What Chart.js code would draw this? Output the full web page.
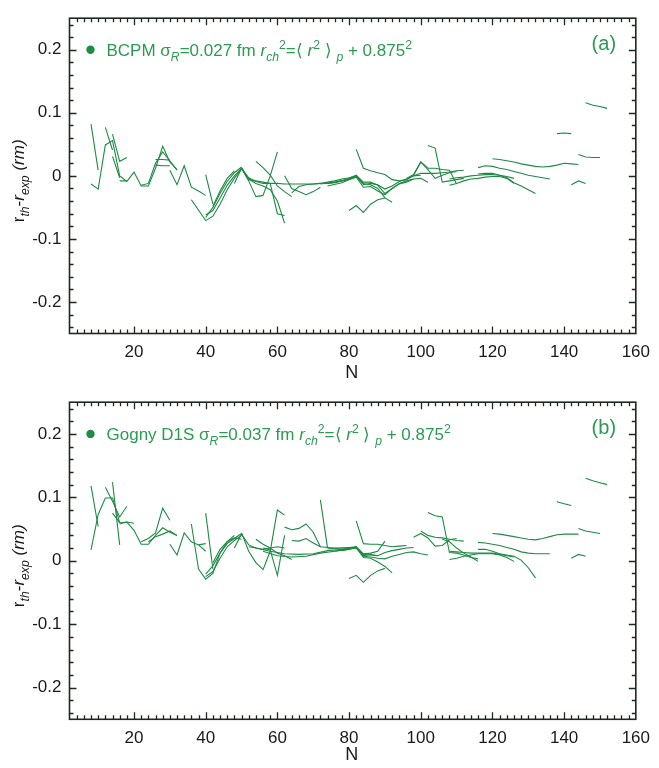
<!DOCTYPE html>
<html><head><meta charset="utf-8">
<script src="https://cdn.jsdelivr.net/npm/chart.js@4.4.1/dist/chart.umd.min.js"></script>
<style>
html,body{margin:0;padding:0;background:#fff;}
.wrap{position:absolute;left:0;width:659px;height:384px;}
canvas{display:block;}
</style></head>
<body>
<div class="wrap" style="top:0"><canvas id="c1" width="659" height="384"></canvas></div>
<div class="wrap" style="top:384px"><canvas id="c2" width="659" height="384"></canvas></div>
<script>
// ---------- axis ticks ----------
const xMajorTicks = [20, 40, 60, 80, 100, 120, 140, 160];
const xTickLabels = ['20', '40', '60', '80', '100', '120', '140', '160'];
const yMajorTicks = [-0.2, -0.1, 0, 0.1, 0.2];
const yTickLabels = ['-0.2', '-0.1', '0', '0.1', '0.2'];
const xRange = [2, 160];
const yRange = [-0.25, 0.25];

// ---------- panel (a): BCPM, chains of [N, r_th - r_exp] ----------
const bcpm01 = [[8,0.082],[10,0.009]];
const bcpm02 = [[8,-0.013],[10,-0.021],[12,0.049],[14,0.056],[16,0.0],[18,-0.009],[20,0.006],[22,-0.016],[24,-0.016],[26,0.012],[28,0.047],[30,0.022],[32,0.010]];
const bcpm03 = [[12,0.077],[14,0.041]];
const bcpm04 = [[14,0.066],[16,0.023],[18,0.029]];
const bcpm05 = [[14,0.031],[16,-0.003]];
const bcpm06 = [[16,-0.008],[18,-0.008]];
const bcpm07 = [[22,-0.015],[24,-0.012],[26,0.020],[28,0.038],[30,0.024],[32,0.009]];
const bcpm08 = [[26,0.026],[28,0.026],[30,0.025]];
const bcpm09 = [[26,0.017],[28,0.016],[30,0.016]];
const bcpm10 = [[30,0.009],[32,-0.014],[34,0.016],[36,-0.018],[38,-0.024],[40,-0.031]];
const bcpm11 = [[40,0.002],[42,-0.045]];
const bcpm12 = [[36,-0.038],[40,-0.071],[42,-0.064],[44,-0.045],[46,-0.022],[48,-0.004],[50,0.011]];
const bcpm13 = [[40,-0.062],[42,-0.055],[44,-0.035],[46,-0.015],[48,0.0],[50,0.012]];
const bcpm14 = [[40,-0.066],[42,-0.050],[44,-0.028],[46,-0.009],[48,0.005],[50,0.014]];
const bcpm15 = [[42,-0.048],[44,-0.024],[46,-0.004],[48,0.008]];
const bcpm16 = [[48,-0.012],[50,0.012],[52,-0.003],[54,-0.009],[56,-0.012],[58,-0.012],[60,-0.012],[62,-0.013],[64,-0.013],[66,-0.013],[68,-0.013],[70,-0.013],[72,-0.012],[74,-0.012],[76,-0.011],[78,-0.008],[80,-0.005],[82,-0.001]];
const bcpm17 = [[50,0.012],[52,-0.008],[54,-0.033],[56,-0.031],[58,0.0],[60,0.038]];
const bcpm18 = [[54,0.023],[56,0.013],[58,0.001],[60,-0.016],[62,-0.025],[64,-0.033]];
const bcpm19 = [[50,0.013],[52,-0.006],[54,-0.008],[56,-0.010],[58,-0.012],[60,-0.060],[62,-0.063]];
const bcpm20 = [[50,0.011],[52,-0.005],[54,-0.012],[56,-0.016],[58,-0.022],[60,-0.040],[62,-0.075]];
const bcpm21 = [[62,0.0],[64,-0.020],[66,-0.025],[68,-0.030],[70,-0.025],[72,-0.018]];
const bcpm22 = [[64,-0.027],[66,-0.017],[68,-0.014],[70,-0.013],[72,-0.012],[74,-0.010],[76,-0.008],[78,-0.005],[80,-0.003],[82,0.0],[84,-0.014],[86,-0.012],[88,-0.014],[90,-0.021],[92,-0.016],[94,-0.009],[96,-0.005],[98,0.0],[100,0.001]];
const bcpm23 = [[72,-0.013],[76,-0.010],[80,-0.005],[82,-0.001],[84,-0.012],[86,-0.014],[88,-0.020],[90,-0.035],[92,-0.042]];
const bcpm24 = [[74,-0.016],[78,-0.011],[80,-0.006],[82,-0.002],[84,-0.018],[86,-0.017],[88,-0.024],[90,-0.030],[92,-0.020],[94,-0.013],[96,-0.010],[98,-0.005]];
const bcpm25 = [[74,-0.012],[78,-0.008],[80,-0.004],[82,0.001],[84,-0.010],[86,-0.010],[88,-0.015],[90,-0.028],[92,-0.020],[94,-0.012],[96,-0.008],[98,-0.005],[100,-0.004],[102,-0.010]];
const bcpm26 = [[82,0.042],[84,0.012],[86,0.008],[88,0.005],[90,0.002],[92,-0.006],[94,-0.008],[96,-0.006],[98,0.0],[100,0.004],[102,0.004],[104,0.004],[106,0.005],[108,0.006],[110,0.008],[112,0.009]];
const bcpm27 = [[80,-0.055],[82,-0.047],[84,-0.058],[86,-0.045],[88,-0.038],[90,-0.035]];
const bcpm28 = [[98,0.001],[100,0.022],[102,0.012],[104,0.012],[106,0.010],[108,0.009],[110,-0.013]];
const bcpm29 = [[96,-0.004],[98,0.002],[100,0.022],[102,0.010],[104,-0.004],[106,0.001],[108,0.005],[110,0.007]];
const bcpm30 = [[102,0.048],[104,0.044],[106,-0.010],[108,-0.008],[110,-0.006],[112,-0.004]];
const bcpm31 = [[108,-0.015],[110,-0.012],[112,-0.008],[114,-0.005],[116,-0.004],[118,-0.002],[120,-0.001],[122,-0.001],[124,-0.004],[126,-0.012]];
const bcpm32 = [[108,-0.005],[110,-0.003],[112,-0.002],[114,0.0],[116,0.001],[118,0.002],[120,0.002],[122,0.001],[124,-0.001],[126,-0.004]];
const bcpm33 = [[116,0.003],[118,0.004],[120,0.004],[122,0.001],[124,-0.003],[126,-0.011],[128,-0.016],[130,-0.022],[132,-0.028]];
const bcpm34 = [[116,0.013],[118,0.016],[120,0.015],[122,0.012],[124,0.010],[126,0.007],[128,0.004],[130,0.001],[132,-0.001],[134,-0.003],[136,-0.005]];
const bcpm35 = [[120,0.027],[122,0.026],[124,0.024],[126,0.022],[128,0.019],[130,0.017],[132,0.015],[134,0.014],[136,0.015],[138,0.017],[140,0.020],[142,0.019],[144,0.018]];
const bcpm36 = [[138,0.067],[140,0.068],[142,0.067]];
const bcpm37 = [[144,0.034],[146,0.030],[148,0.029],[150,0.029]];
const bcpm38 = [[142,-0.014],[144,-0.008],[146,-0.012]];
const bcpm39 = [[146,0.116],[148,0.112],[150,0.110],[152,0.107]];

// ---------- panel (b): Gogny D1S ----------
const d1s01 = [[8,0.118],[10,0.054]];
const d1s02 = [[8,0.017],[10,0.073],[12,0.099],[14,0.099],[16,0.060]];
const d1s03 = [[12,0.116],[14,0.094],[16,0.069],[18,0.086]];
const d1s04 = [[14,0.124],[16,0.025]];
const d1s05 = [[14,0.075],[16,0.060],[18,0.061],[20,0.059]];
const d1s06 = [[16,0.058],[18,0.061],[20,0.048],[22,0.026],[24,0.026],[26,0.040],[28,0.052],[30,0.045],[32,0.040]];
const d1s07 = [[22,0.030],[24,0.035],[26,0.044],[28,0.083],[30,0.064]];
const d1s08 = [[24,0.030],[26,0.038],[28,0.042],[30,0.047],[32,0.040]];
const d1s09 = [[30,0.026],[32,0.009],[34,0.044],[36,0.030],[38,0.025],[40,0.027]];
const d1s10 = [[36,0.058],[38,-0.013],[40,-0.029],[42,-0.020],[44,0.012],[46,0.030],[48,0.040]];
const d1s11 = [[40,0.075],[42,-0.013]];
const d1s12 = [[38,0.025],[40,0.015]];
const d1s13 = [[40,-0.025],[42,-0.017],[44,0.004],[46,0.022],[48,0.032],[50,0.040]];
const d1s14 = [[40,-0.021],[42,-0.008],[44,0.012],[46,0.027],[48,0.035],[50,0.043]];
const d1s15 = [[42,-0.003],[44,0.018],[46,0.030],[48,0.036],[50,0.034]];
const d1s16 = [[48,0.020],[50,0.042],[52,0.025],[54,0.020],[56,0.018],[58,0.020],[60,0.022],[62,0.020]];
const d1s17 = [[50,0.044],[52,0.015],[54,-0.003],[56,-0.014],[58,0.015],[60,0.080],[62,0.072]];
const d1s18 = [[54,0.034],[56,0.026],[58,0.020],[60,0.012],[62,0.008],[64,0.002]];
const d1s19 = [[56,0.020],[58,0.017],[60,-0.023],[62,0.040]];
const d1s20 = [[62,0.053],[64,0.049],[66,0.051],[68,0.058],[70,0.045],[72,0.022],[74,0.021],[76,0.020],[78,0.020],[80,0.021],[82,0.022]];
const d1s21 = [[64,0.032],[66,0.031],[68,0.035],[70,0.028],[72,0.022]];
const d1s22 = [[72,0.096],[74,0.020]];
const d1s23 = [[52,0.022],[54,0.020],[58,0.015],[62,0.011],[66,0.010],[70,0.011],[74,0.016],[78,0.018],[82,0.021],[84,0.008],[86,0.010],[88,0.008]];
const d1s24 = [[56,0.015],[60,0.008],[64,0.006],[68,0.007],[72,0.012],[76,0.015],[80,0.019],[82,0.022],[84,0.010],[86,0.009],[88,0.008],[90,0.013],[92,0.016],[94,0.018],[96,0.020],[98,0.021]];
const d1s25 = [[74,0.019],[78,0.020],[82,0.021],[84,0.005],[86,0.004],[88,-0.002],[90,-0.009],[92,-0.019]];
const d1s26 = [[76,0.015],[80,0.018],[82,0.022],[84,0.011],[86,0.012],[88,0.015],[90,0.031]];
const d1s27 = [[78,0.016],[82,0.020],[84,0.007],[86,0.006],[88,0.004],[90,0.003],[92,0.007],[94,0.010],[96,0.013],[98,0.014],[100,0.011],[102,0.009]];
const d1s28 = [[82,0.063],[84,0.027],[86,0.026],[88,0.026],[90,0.024],[92,0.022],[94,0.023],[96,0.024]];
const d1s29 = [[80,-0.028],[82,-0.023],[84,-0.034],[86,-0.023],[88,-0.016],[90,-0.012]];
const d1s30 = [[98,0.037],[100,0.043],[102,0.036],[104,0.023],[106,0.024],[108,0.033],[110,0.035]];
const d1s31 = [[100,0.047],[102,0.040],[104,0.037],[106,0.036],[108,0.034],[110,0.032],[112,0.031]];
const d1s32 = [[102,0.076],[104,0.071],[106,0.069],[108,0.013],[110,0.012],[112,0.009],[114,0.005],[116,0.003]];
const d1s33 = [[106,0.034],[108,0.030],[110,0.020],[112,0.012],[114,0.006],[116,-0.001]];
const d1s34 = [[108,0.002],[110,0.004],[112,0.007],[114,0.009],[116,0.011],[118,0.011],[120,0.011],[122,0.009],[124,0.005],[126,-0.001]];
const d1s35 = [[108,0.015],[110,0.014],[112,0.013],[114,0.012],[116,0.012],[118,0.012],[120,0.012],[122,0.010],[124,0.008],[126,0.006]];
const d1s36 = [[116,0.018],[118,0.018],[120,0.015],[122,0.011],[124,0.009],[126,0.007],[128,0.001],[130,-0.011],[132,-0.027]];
const d1s37 = [[116,0.029],[118,0.028],[120,0.026],[122,0.024],[124,0.021],[126,0.018],[128,0.014],[130,0.012],[132,0.011],[134,0.011],[136,0.011]];
const d1s38 = [[120,0.043],[122,0.042],[124,0.040],[126,0.038],[128,0.036],[130,0.034],[132,0.033],[134,0.035],[136,0.038],[138,0.041],[140,0.042],[142,0.042],[144,0.042]];
const d1s39 = [[138,0.093],[140,0.090],[142,0.087]];
const d1s40 = [[144,0.051],[146,0.047],[148,0.045],[150,0.043]];
const d1s41 = [[142,0.004],[144,0.010],[146,0.007]];
const d1s42 = [[146,0.130],[148,0.126],[150,0.123],[152,0.120]];

const bcpmChains = [bcpm01,bcpm02,bcpm03,bcpm04,bcpm05,bcpm06,bcpm07,bcpm08,bcpm09,bcpm10,bcpm11,bcpm12,bcpm13,bcpm14,bcpm15,bcpm16,bcpm17,bcpm18,bcpm19,bcpm20,bcpm21,bcpm22,bcpm23,bcpm24,bcpm25,bcpm26,bcpm27,bcpm28,bcpm29,bcpm30,bcpm31,bcpm32,bcpm33,bcpm34,bcpm35,bcpm36,bcpm37,bcpm38,bcpm39];
const d1sChains = [d1s01,d1s02,d1s03,d1s04,d1s05,d1s06,d1s07,d1s08,d1s09,d1s10,d1s11,d1s12,d1s13,d1s14,d1s15,d1s16,d1s17,d1s18,d1s19,d1s20,d1s21,d1s22,d1s23,d1s24,d1s25,d1s26,d1s27,d1s28,d1s29,d1s30,d1s31,d1s32,d1s33,d1s34,d1s35,d1s36,d1s37,d1s38,d1s39,d1s40,d1s41,d1s42];

// ---------- styling ----------
const FONT = '"Liberation Sans", Arial, Helvetica, sans-serif';
const LINE_COLOR = 'rgb(30,138,68)';
const TEXT_GREEN = 'rgb(42,155,80)';
const DOT_GREEN = 'rgb(30,140,68)';
const AXIS_COLOR = '#1e2a20';
const LABEL_COLOR = '#1a1a1a';

const legendA = [['BCPM σ','n'],['R','subi'],['=0.027 fm ','n'],['r','i'],['ch','subi'],['2','sup'],['=⟨ ','n'],['r','i'],['2','sup'],[' ⟩ ','n'],['p','subi'],[' + 0.875','n'],['2','sup']];
const legendB = [['Gogny D1S σ','n'],['R','subi'],['=0.037 fm ','n'],['r','i'],['ch','subi'],['2','sup'],['=⟨ ','n'],['r','i'],['2','sup'],[' ⟩ ','n'],['p','subi'],[' + 0.875','n'],['2','sup']];
const yTitle = [['r','n'],['th','subi'],['-','n'],['r','i'],['exp','subi'],[' (rm)','i']];

function richWidth(ctx, parts, size){
  let w = 0;
  for (const [t, s] of parts){
    const small = (s==='subi'||s==='sup');
    const it = (s==='i'||s==='subi');
    ctx.font = (it?'italic ':'') + (small? size*0.72 : size) + 'px ' + FONT;
    w += ctx.measureText(t).width;
  }
  return w;
}
function drawRich(ctx, x, y, parts, size){
  for (const [t, s] of parts){
    let fs = size, dy = 0, it = false;
    if (s==='subi'){ fs = size*0.72; dy = size*0.32; it = true; }
    else if (s==='sup'){ fs = size*0.72; dy = -size*0.42; }
    else if (s==='i'){ it = true; }
    ctx.font = (it?'italic ':'') + fs + 'px ' + FONT;
    ctx.fillText(t, x, y+dy);
    x += ctx.measureText(t).width;
  }
  return x;
}

function framePlugin(legend, panelLabel, nOffset){
  return {
    id: 'frame',
    afterDraw(chart){
      const ctx = chart.ctx, a = chart.chartArea;
      const xs = chart.scales.x, ys = chart.scales.y;
      ctx.save();
      ctx.strokeStyle = AXIS_COLOR;
      ctx.lineWidth = 1.6;
      ctx.strokeRect(a.left, a.top, a.right - a.left, a.bottom - a.top);
      ctx.lineWidth = 1.3;
      ctx.beginPath();
      for (let n = xRange[0] + 2; n < xRange[1]; n += 2){
        const major = xMajorTicks.includes(n);
        const L = major ? 7 : 4;
        const px = Math.round(xs.getPixelForValue(n)) + 0.5;
        ctx.moveTo(px, a.bottom); ctx.lineTo(px, a.bottom - L);
        ctx.moveTo(px, a.top); ctx.lineTo(px, a.top + L);
      }
      for (let k = -12; k <= 12; k++){
        const v = k * 0.02;
        const major = (k % 5 === 0);
        const L = major ? 7 : 4;
        const py = Math.round(ys.getPixelForValue(v)) + 0.5;
        ctx.moveTo(a.left, py); ctx.lineTo(a.left + L, py);
        ctx.moveTo(a.right, py); ctx.lineTo(a.right - L, py);
      }
      ctx.stroke();

      const ly = ys.getPixelForValue(0.2);
      ctx.fillStyle = DOT_GREEN;
      ctx.beginPath(); ctx.arc(a.left + 21, ly, 4.2, 0, Math.PI*2); ctx.fill();
      ctx.fillStyle = TEXT_GREEN;
      ctx.textBaseline = 'alphabetic';
      drawRich(ctx, a.left + 37, ly + 6, legend, 17);
      ctx.font = '20px ' + FONT;
      ctx.textAlign = 'center';
      ctx.fillText(panelLabel, a.right - 32, ly);
      ctx.fillStyle = LABEL_COLOR;
      ctx.textAlign = 'left';
      const w = richWidth(ctx, yTitle, 17);
      ctx.save();
      ctx.translate(24, (a.top + a.bottom)/2 + 5);
      ctx.rotate(-Math.PI/2);
      drawRich(ctx, -w/2, 0, yTitle, 17);
      ctx.restore();
      ctx.font = '18px ' + FONT;
      ctx.textAlign = 'center';
      ctx.textBaseline = 'middle';
      ctx.fillText('N', (a.left + a.right)/2 - 1, a.bottom + nOffset);
      ctx.restore();
    }
  };
}

function makePanel(id, chains, legend, label, xAxisHeight, nOffset){
  const datasets = chains.map(ch => ({
    data: ch.map(p => ({x: p[0], y: p[1]})),
    showLine: true,
    borderColor: LINE_COLOR,
    borderWidth: 1.1,
    pointRadius: 0,
    fill: false,
    tension: 0
  }));
  return new Chart(document.getElementById(id), {
    type: 'scatter',
    data: { datasets },
    options: {
      responsive: false,
      animation: false,
      events: [],
      layout: { padding: { top: 6, right: 13, left: 0, bottom: 0 } },
      plugins: { legend: { display: false }, tooltip: { enabled: false } },
      scales: {
        x: {
          type: 'linear', min: xRange[0], max: xRange[1],
          afterBuildTicks: s => { s.ticks = xMajorTicks.map(v => ({value: v})); },
          afterFit: s => { s.height = xAxisHeight; },
          grid: { display: false, drawTicks: false },
          border: { display: false },
          ticks: {
            autoSkip: false, maxRotation: 0, padding: 9,
            color: LABEL_COLOR, font: { family: FONT, size: 17 },
            callback: (v, i) => xTickLabels[i]
          }
        },
        y: {
          type: 'linear', min: yRange[0], max: yRange[1],
          afterBuildTicks: s => { s.ticks = yMajorTicks.map(v => ({value: v})); },
          afterFit: s => { s.width = 69.5; },
          grid: { display: false, drawTicks: false },
          border: { display: false },
          ticks: {
            autoSkip: false, padding: 8,
            color: LABEL_COLOR, font: { family: FONT, size: 17 },
            callback: (v, i) => yTickLabels[i]
          }
        }
      }
    },
    plugins: [framePlugin(legend, label, nOffset)]
  });
}

makePanel('c1', bcpmChains, legendA, '(a)', 50.5, 39.5);
makePanel('c2', d1sChains, legendB, '(b)', 48.7, 36);
</script>
</body></html>
